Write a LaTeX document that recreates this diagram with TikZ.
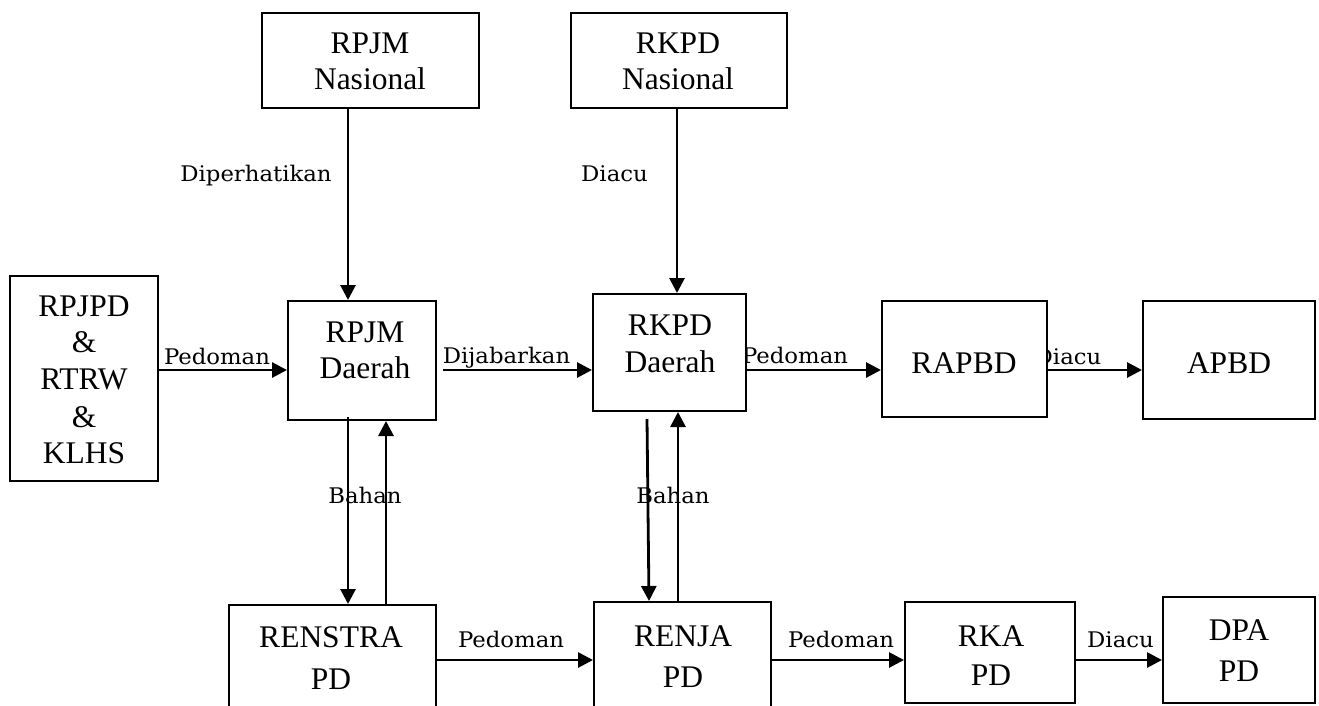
\documentclass[tikz,border=0pt]{standalone}
\usepackage{fontspec}
\setmainfont{Liberation Serif}
\newfontfamily\lblfont[FakeStretch=1.06]{DejaVu Serif}
\usetikzlibrary{arrows.meta}
\begin{document}
\begin{tikzpicture}[x=1pt,y=-1pt,
  box/.style={draw, line width=2pt, fill=white, inner sep=0pt, rectangle},
  txt/.style={font=\fontsize{31.5}{37}\selectfont, inner sep=0pt, anchor=base},
  lbl/.style={font=\lblfont\fontsize{21.5}{25}\selectfont, inner sep=0pt, anchor=base},
  arr/.style={line width=2.8pt, -{Triangle[length=15pt,width=15pt]}}]
\useasboundingbox (0,0) rectangle (1319,705);
\clip (0,0) rectangle (1319,705);

% connector labels (some are partly covered by boxes)
\node[lbl] (lPed1) at (217,364) {Pedoman};
\node[lbl] (lDip) at (256,181) {Diperhatikan};
\node[lbl] (lDia1) at (614.5,181) {Diacu};
\node[lbl] (lDij) at (506.5,363) {Dijabarkan};
\node[lbl] (lPed2) at (795,363) {Pedoman};
\node[lbl] (lDia2) at (1068,364) {Diacu};
\node[lbl] (lBah1) at (365,503) {Bahan};
\node[lbl] (lBah2) at (673,503) {Bahan};
\node[lbl] (lPed3) at (511,647) {Pedoman};
\node[lbl] (lPed4) at (841,647) {Pedoman};
\node[lbl] (lDia3) at (1120.5,647) {Diacu};

% boxes
\node[box, minimum width=148pt, minimum height=205pt] (rpjpd) at (84,378.5) {};
\node[box, minimum width=148pt, minimum height=119pt] (rpjmD) at (362,360.5) {};
\node[box, minimum width=217pt, minimum height=95pt] (rpjmN) at (370.5,60.5) {};
\node[box, minimum width=216pt, minimum height=95pt] (rkpdN) at (679,60.5) {};
\node[box, minimum width=153pt, minimum height=117pt] (rkpdD) at (669.5,352.5) {};
\node[box, minimum width=165pt, minimum height=116pt] (rapbd) at (964.5,359) {};
\node[box, minimum width=172pt, minimum height=118pt] (apbd) at (1229,360) {};
\node[box, minimum width=207pt, minimum height=130pt] (renstra) at (332.5,670) {};
\node[box, minimum width=177pt, minimum height=133pt] (renja) at (682.5,668.5) {};
\node[box, minimum width=170pt, minimum height=101pt] (rka) at (990,652.5) {};
\node[box, minimum width=152pt, minimum height=106pt] (dpa) at (1239,650) {};

% box texts
\node[txt] (t1a) at (84,316) {RPJPD};
\node[txt] (t1b) at (84,352) {\&};
\node[txt] (t1c) at (84,389) {RTRW};
\node[txt] (t1d) at (84,427) {\&};
\node[txt] (t1e) at (84,463) {KLHS};
\node[txt] (t2a) at (365,342) {RPJM};
\node[txt] (t2b) at (365,378) {Daerah};
\node[txt] (t3a) at (370,53) {RPJM};
\node[txt] (t3b) at (370,89) {Nasional};
\node[txt] (t4a) at (678,53) {RKPD};
\node[txt] (t4b) at (678,89) {Nasional};
\node[txt] (t5a) at (670,335) {RKPD};
\node[txt] (t5b) at (670,372) {Daerah};
\node[txt] (t6) at (964,373) {RAPBD};
\node[txt] (t7) at (1229,373) {APBD};
\node[txt] (t8a) at (331,647) {RENSTRA};
\node[txt] (t8b) at (331,689) {PD};
\node[txt] (t9a) at (683,646) {RENJA};
\node[txt] (t9b) at (683,687) {PD};
\node[txt] (t10a) at (991,646) {RKA};
\node[txt] (t10b) at (991,685) {PD};
\node[txt] (t11a) at (1239,640) {DPA};
\node[txt] (t11b) at (1239,681) {PD};

% helper coordinates
\coordinate (r1) at (0,370);
\coordinate (r2) at (0,660);
\coordinate (c1) at (348,0);
\coordinate (c2) at (386,0);
\coordinate (c3) at (649,0);
\coordinate (c4) at (677,0);
\coordinate (c5) at (678,0);
\coordinate (dstart) at (443,370);
\coordinate (b1s) at (348,417);
\coordinate (b2s) at (647,419);

% connectors
\draw[arr] (rpjpd.east |- r1) -- (rpjmD.west |- r1);
\draw[arr] (rpjmN.south -| c1) -- (rpjmD.north -| c1);
\draw[arr] (dstart) -- (rkpdD.west |- r1);
\draw[arr] (rkpdN.south -| c4) -- (rkpdD.north -| c4);
\draw[arr] (rkpdD.east |- r1) -- (rapbd.west |- r1);
\draw[arr] (rapbd.east |- r1) -- (apbd.west |- r1);
\draw[arr] (b1s) -- (renstra.north -| c1);
\draw[arr] (renstra.north -| c2) -- (rpjmD.south -| c2);
\draw[arr] (b2s) -- (renja.north -| c3);
\draw[arr] (renja.north -| c5) -- (rkpdD.south -| c5);
\draw[arr] (renstra.east |- r2) -- (renja.west |- r2);
\draw[arr] (renja.east |- r2) -- (rka.west |- r2);
\draw[arr] (rka.east |- r2) -- (dpa.west |- r2);
\end{tikzpicture}
\end{document}
